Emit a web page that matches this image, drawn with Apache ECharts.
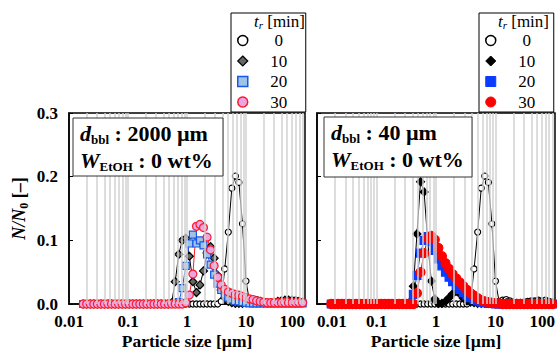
<!DOCTYPE html>
<html><head><meta charset="utf-8">
<script src="https://cdn.jsdelivr.net/npm/echarts@6/dist/echarts.min.js"></script>
<style>html,body{margin:0;padding:0;background:#fff}#c{width:557px;height:351px}</style>
</head><body><div id="c"></div>
<script>
// particle size bins [µm]
const sizes = [0.01738,0.01995,0.02291,0.0263,0.0302,0.03467,0.03981,0.04571,0.05248,0.06026,
  0.06918,0.07943,0.0912,0.1047,0.1202,0.138,0.1585,0.182,0.2089,0.2399,
  0.2754,0.3162,0.3631,0.4169,0.4786,0.5495,0.631,0.7244,0.8318,0.955,
  1.096,1.259,1.445,1.66,1.905,2.188,2.512,2.884,3.311,3.802,
  4.365,5.012,5.754,6.607,7.586,8.71,10,11.48,13.18,15.14,
  17.38,19.95,22.91,26.3,30.2,34.67,39.81,45.71,52.48,60.26,
  69.18,79.43,91.2];
// tr = 0 min (same initial distribution in both panels)
const t0 = [0,0,0,0,0,0,0,0,0,0, 0,0,0,0,0,0,0,0,0,0, 0,0,0,0,0,0,0,0,0,0,
  0,0,0,0,0,0,0,0,0,0.004, 0.055,0.113,0.182,0.201,0.191,0.126,0.036,0.004,0.006,0.007,
  0.005,0.003,0.002,0.002,0.003,0.004,0.005,0.005,0.006,0.005, 0.006,0.004,0.003];
// left panel (d_bbl = 2000 µm)
const L10 = [0,0,0,0,0,0,0,0,0,0, 0,0,0,0,0,0,0,0,0,0, 0,0,0,0,0,0.002,0.035,0.078,0.100,0.103,
  0.075,0.035,0.018,0.030,0.052,0.080,0.090,0.072,0.045,0.022, 0.010,0.004,0.002,0.001,0.001,0.001,0.002,0.003,0.005,0.005,
  0.004,0.002,0.002,0.002,0.003,0.004,0.005,0.006,0.006,0.006, 0.005,0.004,0.003];
const L20 = [0,0,0,0,0,0,0,0,0,0, 0,0,0,0,0,0,0,0,0,0, 0,0,0,0,0,0,0,0.003,0.025,0.060,
  0.095,0.109,0.095,0.100,0.092,0.078,0.062,0.046,0.032,0.022, 0.015,0.010,0.007,0.005,0.004,0.003,0.002,0.001,0.001,0.001,
  0.001,0.001,0.001,0.001,0.001,0.001,0.001,0.001,0.001,0.001, 0.001,0.001,0.001];
const L30 = [0,0,0,0,0,0,0,0,0,0, 0,0,0,0,0,0,0,0,0,0, 0,0,0,0,0,0,0,0,0,0.002,
  0.014,0.047,0.122,0.125,0.120,0.105,0.085,0.060,0.042,0.030, 0.023,0.019,0.017,0.015,0.014,0.012,0.010,0.008,0.007,0.005,
  0.004,0.003,0.002,0.002,0.002,0.002,0.002,0.002,0.002,0.002, 0.002,0.002,0.002];
// right panel (d_bbl = 40 µm)
const R10 = [0,0,0,0,0,0,0,0,0,0, 0,0,0,0,0,0,0,0,0,0, 0,0,0.003,0.028,0.110,0.192,0.176,0.100,0.036,0.008,
  0.001,0.001,0.004,0.010,0.016,0.020,0.016,0.009,0.005,0.003, 0.002,0.001,0.001,0.001,0.001,0.001,0.001,0.001,0.002,0.002,
  0.001,0.001,0.001,0.001,0.001,0.001,0.002,0.002,0.002,0.002, 0.002,0.001,0.001];
const R20 = [0,0,0,0,0,0,0,0,0,0, 0,0,0,0,0,0,0,0,0,0, 0,0,0,0.015,0.045,0.080,0.100,0.106,0.098,0.084,
  0.071,0.060,0.050,0.042,0.035,0.029,0.023,0.018,0.014,0.010, 0.007,0.005,0.003,0.002,0.001,0.001,0,0,0,0,
  0,0,0,0,0,0,0,0,0,0, 0,0,0];
const R30 = [0,0,0,0,0,0,0,0,0,0, 0,0,0,0,0,0,0,0,0,0, 0,0,0,0,0.017,0.050,0.080,0.103,0.107,0.101,
  0.088,0.075,0.064,0.055,0.047,0.040,0.034,0.028,0.022,0.017, 0.013,0.009,0.006,0.004,0.003,0.002,0.001,0.001,0,0,
  0,0,0,0,0,0,0,0,0,0, 0,0,0];
const legendLabels = ['0','10','20','30'];
const gridValues = [0.02,0.03,0.04,0.05,0.06,0.07,0.08,0.09,0.1,0.2,0.3,0.4,0.5,0.6,0.7,0.8,0.9,
  1,2,3,4,5,6,7,8,9,10,20,30,40,50,60,70,80,90];

const F = 'Liberation Serif';
const pairs = a => sizes.map((s, i) => [s, a[i]]);
const chart = echarts.init(document.getElementById('c'), null, {renderer: 'svg'});

function gridSeries(idx) {
  return {type: 'line', xAxisIndex: idx, yAxisIndex: idx, data: [], z: 1, silent: true,
    markLine: {silent: true, symbol: ['none', 'none'], label: {show: false}, animation: false,
      lineStyle: {color: '#d2d2d2', width: 1.5, type: 'solid'},
      emphasis: {disabled: true},
      data: gridValues.map(v => ({xAxis: v}))}};
}
function ser(name, idx, arr, symbol, size, fill, border, lineColor) {
  return {name, type: 'line', xAxisIndex: idx, yAxisIndex: idx, data: pairs(arr), z: 3,
    symbol, symbolSize: size, showSymbol: true, showAllSymbol: true,
    itemStyle: {color: fill, borderColor: border, borderWidth: 1.2},
    lineStyle: {color: lineColor, width: 1}, emphasis: {disabled: true}};
}
const xLabel = extra => Object.assign({fontFamily: F, fontWeight: 'bold', fontSize: 17, color: '#000', margin: 9,
  formatter: v => String(v)}, extra);
const xAx = (idx, labelExtra) => ({type: 'log', gridIndex: idx, min: 0.01, max: 100, logBase: 10,
  axisLine: {show: true, onZero: false, lineStyle: {color: '#000', width: 1.5}},
  axisTick: {show: false}, splitLine: {show: false}, minorSplitLine: {show: false},
  axisLabel: xLabel(labelExtra),
  name: 'Particle size [µm]', nameLocation: 'middle', nameGap: 28, nameMoveOverlap: false,
  nameTextStyle: {fontFamily: F, fontWeight: 'bold', fontSize: 17.5, lineHeight: 18, color: '#000'}});
const yAx = (idx, showLabel) => ({type: 'value', gridIndex: idx, min: 0, max: 0.3, interval: 0.1,
  axisLine: {show: true, lineStyle: {color: '#000', width: 1.5}},
  axisTick: {show: true, inside: true, length: 4, lineStyle: {color: '#000', width: 1}},
  splitLine: {show: false},
  axisLabel: {show: showLabel, fontFamily: F, fontWeight: 'bold', fontSize: 17, color: '#000', margin: 11,
    formatter: v => v.toFixed(1)},
  name: showLabel ? '{i|N/N}{s|0}{b| [–]}' : '', nameLocation: 'middle', nameGap: 38, nameRotate: 90,
  nameMoveOverlap: false,
  nameTextStyle: {fontFamily: F, fontWeight: 'bold', fontSize: 18, color: '#000',
    rich: {i: {fontFamily: F, fontWeight: 'bold', fontStyle: 'italic', fontSize: 18, lineHeight: 24},
           s: {fontFamily: F, fontWeight: 'bold', fontSize: 12, padding: [10, 0, 0, 0], lineHeight: 24},
           b: {fontFamily: F, fontWeight: 'bold', fontSize: 18, lineHeight: 24}}}});

function legendCfg(prefix, left, styles) {
  return {orient: 'vertical', left, top: 13, padding: [19, 1, 1.5, 6], itemWidth: 10, itemHeight: 10, itemGap: 3.5,
    borderColor: '#000', borderWidth: 1, selectedMode: false, backgroundColor: '#fff',
    data: legendLabels.map((l, i) => Object.assign({name: prefix + l}, styles[i])),
    formatter: n => '{c|' + n.slice(1) + '}',
    textStyle: {padding: 0, rich: {c: {width: 52, align: 'center', fontFamily: F, fontSize: 17, lineHeight: 16, color: '#000'}}}};
}
const boxRich = {
  i: {fontFamily: F, fontWeight: 'bold', fontStyle: 'italic', fontSize: 22, lineHeight: 27, fill: '#000'},
  s: {fontFamily: F, fontWeight: 'bold', fontSize: 13, padding: [12, 0, 0, 0], lineHeight: 27, fill: '#000'},
  b: {fontFamily: F, fontWeight: 'bold', fontSize: 22, lineHeight: 27, fill: '#000'}};
const titleRich = {
  i: {fontFamily: F, fontStyle: 'italic', fontSize: 17, lineHeight: 12, fill: '#000'},
  s: {fontFamily: F, fontStyle: 'italic', fontSize: 11, padding: [8, 0, 0, 0], lineHeight: 12, fill: '#000'},
  b: {fontFamily: F, fontSize: 17, lineHeight: 12, fill: '#000'}};
function infoBox(x, y, w, h, d) {
  return [
    {type: 'rect', z: 100, shape: {x, y, width: w, height: h}, style: {fill: '#fff', stroke: '#333', lineWidth: 1}},
    {type: 'text', z: 101, x: x + 7, y: y + 2, style: {text: '{i|d}{s|bbl}{b| : ' + d + '}\n{i|W}{s|EtOH}{b| : 0 wt%}', rich: boxRich}}
  ];
}

chart.setOption({
  animation: false,
  grid: [
    {left: 69, top: 113, width: 236, height: 191, show: true, borderColor: '#000', borderWidth: 1.5,
     backgroundColor: 'transparent', containLabel: false, outerBoundsMode: 'none'},
    {left: 317, top: 113, width: 238, height: 191, show: true, borderColor: '#000', borderWidth: 1.5,
     backgroundColor: 'transparent', containLabel: false, outerBoundsMode: 'none'}
  ],
  xAxis: [xAx(0, {alignMaxLabel: 'right'}), xAx(1, {alignMinLabel: 'left', alignMaxLabel: 'right'})],
  yAxis: [yAx(0, true), yAx(1, false)],
  legend: [
    legendCfg('L', 231, [
      {icon: 'circle', itemStyle: {color: '#fff', borderColor: '#000', borderWidth: 1.5}},
      {icon: 'diamond', itemStyle: {color: '#666', borderColor: '#000', borderWidth: 1.2}},
      {icon: 'rect', itemStyle: {color: '#9dc3e6', borderColor: '#1a56e8', borderWidth: 1.5}},
      {icon: 'circle', itemStyle: {color: '#e9a6e3', borderColor: '#ff1a2a', borderWidth: 1.5}}]),
    legendCfg('R', 479, [
      {icon: 'circle', itemStyle: {color: '#fff', borderColor: '#000', borderWidth: 1.5}},
      {icon: 'diamond', itemStyle: {color: '#000', borderColor: '#000', borderWidth: 1}},
      {icon: 'rect', itemStyle: {color: '#0a3cff', borderColor: '#0a3cff', borderWidth: 1}},
      {icon: 'circle', itemStyle: {color: '#ff0000', borderColor: '#ff0000', borderWidth: 1}}])
  ],
  graphic: [
    ...infoBox(73, 118, 150, 58, '2000 µm'),
    ...infoBox(324, 117, 148, 60, '40 µm'),
    {type: 'text', z: 110, x: 305, y: 15, style: {text: '{i|t}{s|r}{b| [min]}', rich: titleRich, align: 'right'}},
    {type: 'text', z: 110, x: 549, y: 15, style: {text: '{i|t}{s|r}{b| [min]}', rich: titleRich, align: 'right'}}
  ],
  series: [
    gridSeries(0), gridSeries(1),
    ser('L0', 0, t0, 'circle', 6, '#fff', '#000', '#000'),
    ser('L10', 0, L10, 'diamond', 8, '#666', '#000', '#000'),
    ser('L20', 0, L20, 'rect', 7, '#9dc3e6', '#1a56e8', '#1a56e8'),
    ser('L30', 0, L30, 'circle', 8, '#e9a6e3', '#ff1a2a', '#ff1a2a'),
    ser('R0', 1, t0, 'circle', 6, '#fff', '#000', '#000'),
    ser('R10', 1, R10, 'diamond', 8, '#000', '#000', '#000'),
    ser('R20', 1, R20, 'rect', 8, '#0a3cff', '#0a3cff', '#0a3cff'),
    ser('R30', 1, R30, 'circle', 9, '#ff0000', '#ff0000', '#ff0000')
  ]
});
</script></body></html>
